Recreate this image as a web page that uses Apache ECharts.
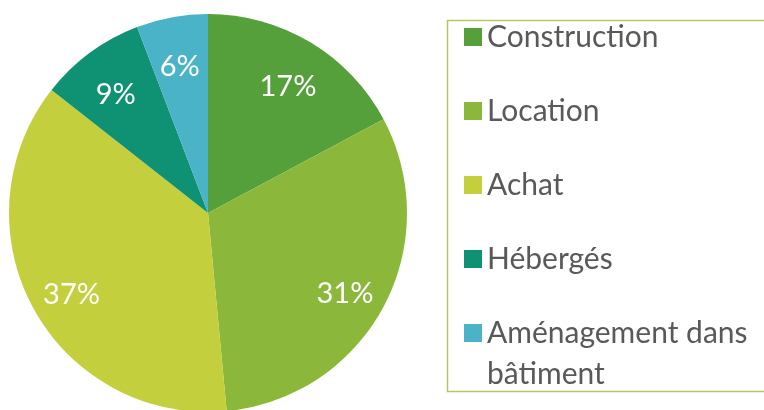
<!DOCTYPE html>
<html>
<head>
<meta charset="utf-8">
<script src="https://cdn.jsdelivr.net/npm/echarts@6/dist/echarts.min.js"></script>
<style>
    html, body { margin: 0; padding: 0; background: #ffffff; }
    #main { width: 764px; height: 410px; }
</style>
</head>
<body>
<div id="main"></div>
<script>
    // données du graphique
    var categories = ['Construction', 'Location', 'Achat', 'Hébergés', 'Aménagement dans bâtiment'];
    var shares = [17.2, 31.3, 37.1, 8.6, 5.8];
    var colors = ['#55a03b', '#8bb83a', '#c3cf3c', '#0f9173', '#4ab3c7'];

    var pieData = categories.map(function (name, i) {
        return { name: name, value: shares[i] };
    });

    var myChart = echarts.init(document.getElementById('main'));

    var option = {
        animation: false,
        color: colors,
        legend: {
            orient: 'vertical',
            left: 464,
            top: 18,
            height: 600,
            padding: 0,
            icon: 'rect',
            itemWidth: 18,
            itemHeight: 18,
            itemGap: 36,
            selectedMode: false,
            textStyle: {
                fontFamily: 'Lato',
                fontSize: 30,
                color: '#595959',
                lineHeight: 38,
                rich: {
                    l1: { fontFamily: 'Lato', fontSize: 30, color: '#595959', lineHeight: 38 },
                    l2: { fontFamily: 'Lato', fontSize: 30, color: '#595959', lineHeight: 0, verticalAlign: 'top', padding: [7, 0, 0, 0] }
                }
            },
            // le dernier libellé passe sur deux lignes, la case reste sur la première
            formatter: function (name) {
                var parts = name.split(' dans ');
                if (parts.length === 2) {
                    return '{l1|' + parts[0] + ' dans}\n{l2|' + parts[1] + '}';
                }
                return name;
            },
            data: categories
        },
        graphic: [{
            type: 'rect',
            silent: true,
            shape: { x: 447.5, y: 20.5, width: 330, height: 371 },
            style: { fill: 'none', stroke: '#b3c766', lineWidth: 1.5 }
        }],
        series: [{
            // secteurs
            type: 'pie',
            center: [208, 213],
            radius: [0, 199],
            startAngle: 90,
            clockwise: true,
            silent: true,
            label: { show: false },
            labelLine: { show: false },
            data: pieData
        }, {
            // étiquettes en pourcentage
            type: 'pie',
            center: [208, 213],
            radius: [106, 199],
            startAngle: 90,
            clockwise: true,
            silent: true,
            itemStyle: { color: 'rgba(0,0,0,0)' },
            label: {
                show: true,
                position: 'inside',
                formatter: function (p) {
                    return '{p|' + Math.round(p.percent) + '%}';
                },
                rich: {
                    p: { fontFamily: 'Lato', fontSize: 29, color: '#ffffff', padding: [14, 0, 0, 0] }
                }
            },
            labelLine: { show: false },
            data: pieData
        }]
    };

    myChart.setOption(option);
</script>
</body>
</html>
